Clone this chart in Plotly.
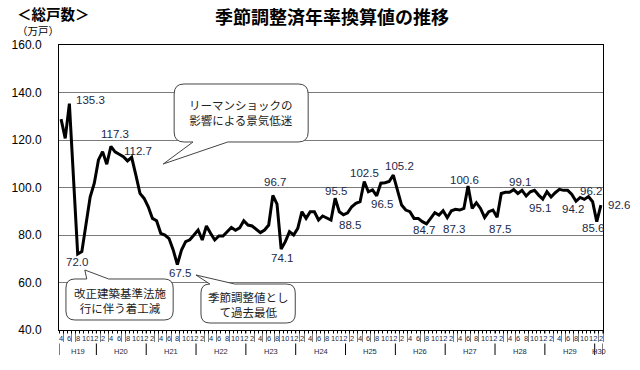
import plotly.graph_objects as go

# ---------------- data ----------------
START_MONTH = 4  # April 2007 (H19)
values = [128.8, 120.7, 135.3, 103.0, 72.0, 73.0, 84.0, 96.0, 101.8, 111.6,
          115.1, 109.8, 117.3, 115.0, 114.0, 113.0, 111.2, 112.7, 105.3, 97.5,
          95.4, 91.9, 87.0, 86.0, 80.7, 80.0, 78.5, 73.7, 67.5, 73.7,
          77.2, 78.0, 80.0, 82.1, 77.9, 83.8, 80.7, 77.9, 79.6, 79.6,
          81.4, 83.2, 82.0, 83.0, 86.0, 84.2, 83.8, 82.4, 81.0, 82.1,
          84.2, 96.7, 93.0, 74.1, 77.2, 81.4, 80.0, 82.8, 89.8, 87.0,
          89.8, 89.8, 86.3, 88.0, 87.0, 86.3, 95.5, 89.8, 88.5, 89.3,
          91.9, 93.3, 94.0, 102.5, 98.2, 99.0, 96.5, 101.8, 102.0, 102.5,
          105.2, 98.9, 92.6, 90.5, 89.8, 87.0, 87.0, 85.6, 84.7, 87.0,
          89.4, 88.4, 90.2, 87.3, 90.2, 90.8, 90.5, 91.2, 100.6, 91.2,
          93.6, 91.2, 87.4, 89.8, 90.5, 87.5, 97.5, 98.0, 98.0, 99.1,
          97.5, 98.8, 96.4, 98.2, 98.8, 96.8, 95.1, 98.2, 96.0, 97.8,
          99.2, 98.8, 98.8, 97.1, 94.2, 95.8, 95.0, 96.2, 94.0, 85.6,
          92.6]
year_labels = ["H19", "H20", "H21", "H22", "H23", "H24", "H25", "H26",
               "H27", "H28", "H29", "H30"]
year_month_counts = [9, 12, 12, 12, 12, 12, 12, 12, 12, 12, 12, 2]
y_ticks = [40, 60, 80, 100, 120, 140, 160]
labeled_points = [2, 4, 12, 17, 28, 51, 53, 66, 68, 73, 76, 80, 88, 93, 98,
                  105, 109, 116, 124, 127, 129, 130]

title = "季節調整済年率換算値の推移"
unit_title = "＜総戸数＞"
unit_sub = "（万戸）"
callout_texts = ["リーマンショックの<br>影響による景気低迷",
                 "改正建築基準法施<br>行に伴う着工減",
                 "季節調整値とし<br>て過去最低"]

# ---------------- derived ----------------
n = len(values)
xs = list(range(n))
month_nums = [(START_MONTH - 1 + i) % 12 + 1 for i in xs]
even_idx = [i for i in xs if month_nums[i] % 2 == 0]
boundaries = [i - 0.5 for i in range(n + 1)]

# layout geometry (pixels)
W, H = 640, 370
L, R, T, B = 55, 603, 45, 330
PW, PH = R - L, B - T


def px(x):
    return (x - L) / PW


def py(y):
    return (B - y) / PH


JP = "Noto Sans CJK JP"
NUM = "Liberation Sans, Arial"
NAVY = "#1b2a49"

fig = go.Figure()
fig.add_trace(go.Scatter(x=xs, y=values, mode="lines",
                         line=dict(color="black", width=3),
                         hoverinfo="skip", showlegend=False))

# label offsets (layout only): dx, dy(px, up positive), anchor
label_style = {
    2: (4.5, 4, "left"), 4: (-1, -8, "center"), 12: (4, 12, "center"),
    17: (6, 6, "center"), 28: (3, -8, "center"), 51: (2, 13, "center"),
    53: (1, -9, "center"), 66: (1, 7, "center"), 68: (6.5, -10, "center"),
    73: (0.5, 8.5, "center"), 76: (5, -8, "center"), 80: (6, 9, "center"),
    88: (-2.5, -6, "center"), 93: (6.5, -11.5, "center"), 98: (-3.5, 6, "center"),
    105: (3, -12, "center"), 109: (6.5, 8, "center"), 116: (-3, -9, "center"),
    124: (-3, -7.5, "center"), 127: (3, 5.5, "center"), 129: (-4, -6, "center"),
    130: (5, 0, "left"),
}
annotations = []
for i in labeled_points:
    dx, dy, anc = label_style[i]
    annotations.append(dict(x=xs[i], y=values[i], xref="x", yref="y",
                            text=f"{values[i]:.1f}", showarrow=False,
                            xanchor=anc, yanchor="middle", xshift=dx, yshift=dy,
                            font=dict(family=NUM, size=11.5, color=NAVY)))

# month labels (even months) under the axis
for i in even_idx:
    annotations.append(dict(x=xs[i], y=py(338.5), xref="x", yref="paper",
                            text=str(month_nums[i]), showarrow=False,
                            xanchor="center", yanchor="middle",
                            bgcolor="white", borderpad=0,
                            font=dict(family=NUM, size=7.5, color=NAVY)))

# year labels and separators
shapes = []
start = -0.5
sep_bottom = py(355)
for lab, cnt in zip(year_labels, year_month_counts):
    end = start + cnt
    annotations.append(dict(x=(start + end) / 2, y=py(351.5), xref="x", yref="paper",
                            text=lab, showarrow=False, xanchor="center", yanchor="middle",
                            font=dict(family=NUM, size=7.5, color=NAVY)))
    shapes.append(dict(type="line", xref="x", yref="paper", x0=start, x1=start,
                       y0=0, y1=sep_bottom, line=dict(color="black", width=1)))
    start = end
shapes.append(dict(type="line", xref="x", yref="paper", x0=start, x1=start,
                   y0=0, y1=sep_bottom, line=dict(color="black", width=1)))

# titles
annotations.append(dict(x=px(330), y=py(16), xref="paper", yref="paper", text="<b>" + title + "</b>",
                        showarrow=False, xanchor="center", yanchor="middle",
                        font=dict(family=JP, size=18, color="black")))
annotations.append(dict(x=px(11), y=py(13), xref="paper", yref="paper", text="<b>" + unit_title + "</b>",
                        showarrow=False, xanchor="left", yanchor="middle",
                        font=dict(family=JP, size=14.5, color="black")))
annotations.append(dict(x=px(11), y=py(30), xref="paper", yref="paper", text=unit_sub,
                        showarrow=False, xanchor="left", yanchor="middle",
                        font=dict(family=JP, size=10.5, color="black")))


def callout(x0, y0, x1, y1, r, side, ba, bb, tip):
    pts = []
    if side == "top":
        cmds = [("M", (x0 + r, y0)), ("L", (ba, y0)), ("L", tip), ("L", (bb, y0)),
                ("L", (x1 - r, y0)), ("Q", (x1, y0), (x1, y0 + r)), ("L", (x1, y1 - r)),
                ("Q", (x1, y1), (x1 - r, y1)), ("L", (x0 + r, y1)),
                ("Q", (x0, y1), (x0, y1 - r)), ("L", (x0, y0 + r)),
                ("Q", (x0, y0), (x0 + r, y0))]
    else:
        cmds = [("M", (x0 + r, y0)), ("L", (x1 - r, y0)), ("Q", (x1, y0), (x1, y0 + r)),
                ("L", (x1, y1 - r)), ("Q", (x1, y1), (x1 - r, y1)), ("L", (bb, y1)),
                ("L", tip), ("L", (ba, y1)), ("L", (x0 + r, y1)),
                ("Q", (x0, y1), (x0, y1 - r)), ("L", (x0, y0 + r)),
                ("Q", (x0, y0), (x0 + r, y0))]
    for c in cmds:
        op = c[0]
        coords = " ".join(f"{px(p[0]):.5f},{py(p[1]):.5f}" for p in c[1:])
        pts.append(f"{op}{coords}")
    return dict(type="path", xref="paper", yref="paper", path=" ".join(pts) + " Z",
                fillcolor="white", line=dict(color="#444444", width=1), layer="above")


boxes = [
    (171, 84, 306, 142, 10, "bottom", 190, 225, (160, 164), (238, 113)),
    (62, 279, 170, 320, 9, "top", 83, 105, (81, 270), (116, 300)),
    (198, 284, 293, 323, 9, "top", 207, 232, (193, 275), (246, 304)),
]
for (x0, y0, x1, y1, r, side, ba, bb, tip, c), txt in zip(boxes, callout_texts):
    shapes.append(callout(x0, y0, x1, y1, r, side, ba, bb, tip))
    annotations.append(dict(x=px(c[0]), y=py(c[1]), xref="paper", yref="paper", text=txt,
                            showarrow=False, xanchor="center", yanchor="middle",
                            font=dict(family=JP, size=11.5, color="#222222")))

fig.update_layout(
    width=W, height=H, autosize=False,
    margin=dict(l=L, r=W - R, t=T, b=H - B, pad=0),
    paper_bgcolor="white", plot_bgcolor="white",
    showlegend=False,
    xaxis=dict(range=[-0.5, n - 0.5], tickmode="array", tickvals=boundaries,
               ticktext=["" for _ in boundaries], ticks="outside", ticklen=11,
               tickcolor="black", tickwidth=1, showticklabels=False,
               showgrid=False, zeroline=False, showline=True, linecolor="black",
               linewidth=1, mirror=True),
    yaxis=dict(range=[40, 160], tickmode="array", tickvals=y_ticks,
               ticktext=[f"{v:.1f}" for v in y_ticks], ticks="",
               tickfont=dict(family=NUM, size=12, color="black"), ticklabelstandoff=14,
               showgrid=True, gridcolor="#7a7a7a", gridwidth=1, zeroline=False,
               showline=True, linecolor="black", linewidth=1, mirror=True),
    annotations=annotations, shapes=shapes,
)

fig.write_html("out.html", config={"displayModeBar": False},
               post_script="document.body.style.margin='0';")
